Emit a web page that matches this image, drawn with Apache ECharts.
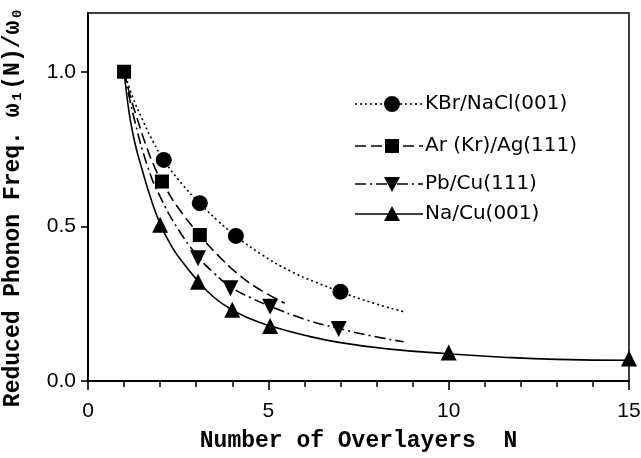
<!DOCTYPE html>
<html>
<head>
<meta charset="utf-8">
<script src="https://cdn.jsdelivr.net/npm/echarts@6/dist/echarts.min.js"></script>
<style>
  html, body { margin: 0; padding: 0; background: #fff; }
  #chart { width: 641px; height: 458px; }
</style>
</head>
<body>
<div id="chart"></div>
<script>
// Measured points (N, reduced frequency) for each overlayer system
const kbrN = [2.1, 3.1, 4.1, 7];
const kbrV = [0.715, 0.575, 0.469, 0.289];
const arN = [1, 2.05, 3.1];
const arV = [1.0, 0.645, 0.472];
const pbN = [3.05, 3.95, 5.05, 6.95];
const pbV = [0.397, 0.30, 0.24, 0.168];
const naN = [2, 3.05, 4.0, 5.05, 10, 15];
const naV = [0.505, 0.321, 0.23, 0.178, 0.092, 0.073];

// Fitted curves through each data set
const kbrFitN = [1, 1.25, 1.53, 1.8, 2.1, 2.6, 3.1, 3.6, 4.1, 4.8, 5.6, 6.3, 7, 7.8, 8.75];
const kbrFitV = [1.0, 0.915, 0.84, 0.775, 0.715, 0.638, 0.575, 0.518, 0.469, 0.41, 0.356, 0.32, 0.289, 0.256, 0.224];
const arFitN = [1, 1.2, 1.39, 1.6, 1.86, 2.05, 2.5, 3.1, 3.6, 4.2, 4.8, 5.46];
const arFitV = [1.0, 0.91, 0.839, 0.765, 0.688, 0.645, 0.56, 0.472, 0.407, 0.342, 0.293, 0.252];
const pbFitN = [1, 1.3, 1.67, 2.0, 2.5, 3.05, 3.5, 3.95, 4.5, 5.05, 6, 6.95, 7.8, 8.75];
const pbFitV = [1.0, 0.839, 0.688, 0.596, 0.491, 0.403, 0.348, 0.305, 0.27, 0.242, 0.2, 0.17, 0.147, 0.127];
const naFitN = [1, 1.08, 1.18, 1.32, 1.49, 1.72, 2, 2.25, 2.5, 3.05, 3.5, 4, 4.5, 5.05, 6, 7, 8.3, 10, 11.5, 13, 15];
const naFitV = [1.0, 0.92, 0.839, 0.76, 0.688, 0.598, 0.508, 0.45, 0.403, 0.323, 0.27, 0.23, 0.201, 0.178, 0.148, 0.124, 0.104, 0.088, 0.077, 0.07, 0.067];

const legendNames = ['KBr/NaCl(001)', 'Ar (Kr)/Ag(111)', 'Pb/Cu(111)', 'Na/Cu(001)'];
const xTicks = [0, 5, 10, 15];
const yTicks = [0, 0.5, 1.0];

const pairs = (xs, ys) => xs.map((x, i) => [x, ys[i]]);

const INK = '#000';
const tickFont = '"Liberation Sans Narrow", "Liberation Sans", Arial, sans-serif';
const legendFont = '"DejaVu Sans", "Liberation Sans", sans-serif';
const titleFont = '"Liberation Mono", "DejaVu Sans Mono", monospace';

const DOT = [2, 3], DASH = [11, 5], DASHDOT = [11, 4, 2, 4];
const lineW = 1.6;

function curve(name, xs, ys, dash) {
  return {
    name, type: 'line', data: pairs(xs, ys), smooth: 0.5,
    showSymbol: false, silent: true, z: 2,
    lineStyle: { color: INK, width: lineW, type: dash || 'solid' }
  };
}
function marks(name, xs, ys, symbol, size, rotate) {
  return {
    name, type: 'scatter', data: pairs(xs, ys), symbol, symbolSize: size,
    symbolRotate: rotate || 0, itemStyle: { color: INK, opacity: 1 }, silent: true, z: 3
  };
}

// Key drawn by hand: line sample, marker, label
const keyRows = [104, 146, 184, 214];
const keyDash = [DOT, DASH, DASHDOT, null];
const keyGraphics = [];
keyRows.forEach((y, i) => {
  keyGraphics.push({
    type: 'line', shape: { x1: 355, y1: y, x2: 423, y2: y },
    style: { stroke: INK, lineWidth: lineW, lineDash: keyDash[i] }
  });
  let sym;
  if (i === 0) sym = { type: 'circle', shape: { cx: 392, cy: y, r: 8 } };
  else if (i === 1) sym = { type: 'rect', shape: { x: 385, y: y - 7, width: 14, height: 14 } };
  else if (i === 2) sym = { type: 'polygon', shape: { points: [[384, y - 7], [400, y - 7], [392, y + 8]] } };
  else sym = { type: 'polygon', shape: { points: [[384, y + 7], [400, y + 7], [392, y - 8]] } };
  sym.style = { fill: INK };
  keyGraphics.push(sym);
  keyGraphics.push({
    type: 'text', x: 425, y: y,
    style: { text: legendNames[i], fill: INK, font: '20px ' + legendFont, verticalAlign: 'middle', align: 'left' }
  });
});

const chart = echarts.init(document.getElementById('chart'), null, { renderer: 'canvas' });
chart.setOption({
  backgroundColor: '#fff',
  animation: false,
  grid: {
    left: 88, right: 12, top: 13, bottom: 77,
    outerBoundsMode: 'none', containLabel: false,
    show: true, borderColor: INK, borderWidth: 1.5
  },
  xAxis: {
    type: 'value', min: 0, max: 15, interval: 5,
    name: 'Number of Overlayers  N', nameLocation: 'middle', nameGap: 49,
    nameTextStyle: { fontFamily: titleFont, fontSize: 23, fontWeight: 'bold', color: INK },
    axisLine: { show: true, lineStyle: { color: INK, width: 2 } },
    axisTick: { show: true, inside: false, length: 9, lineStyle: { color: INK, width: 1.6 }, customValues: xTicks },
    minorTick: { show: true, splitNumber: 5, length: 6, lineStyle: { color: INK, width: 1.5 } },
    axisLabel: { color: INK, fontFamily: tickFont, fontSize: 21, margin: 20, customValues: xTicks },
    splitLine: { show: false }
  },
  yAxis: {
    type: 'value', min: 0, max: 1.19, interval: 0.5,
    name: 'Reduced Phonon Freq. \u03c9\u2081(N)/\u03c9\u2080', nameLocation: 'middle', nameGap: 63,
    nameTextStyle: { fontFamily: titleFont, fontSize: 23, fontWeight: 'bold', color: INK, padding: [0, 20, 0, 0] },
    axisLine: { show: true, lineStyle: { color: INK, width: 2 } },
    axisTick: { show: true, inside: false, length: 7, lineStyle: { color: INK, width: 1.6 }, customValues: yTicks },
    axisLabel: {
      color: INK, fontFamily: tickFont, fontSize: 21, margin: 12, customValues: yTicks,
      formatter: v => v.toFixed(1)
    },
    splitLine: { show: false }
  },
  graphic: keyGraphics,
  series: [
    curve(legendNames[0], kbrFitN, kbrFitV, DOT),
    curve(legendNames[1], arFitN, arFitV, DASH),
    curve(legendNames[2], pbFitN, pbFitV, DASHDOT),
    curve(legendNames[3], naFitN, naFitV, null),
    marks(legendNames[0], kbrN, kbrV, 'circle', 16),
    marks(legendNames[2], pbN, pbV, 'triangle', 16, 180),
    marks(legendNames[3], naN, naV, 'triangle', 16),
    marks(legendNames[1], arN, arV, 'rect', 14)
  ]
});
</script>
</body>
</html>
